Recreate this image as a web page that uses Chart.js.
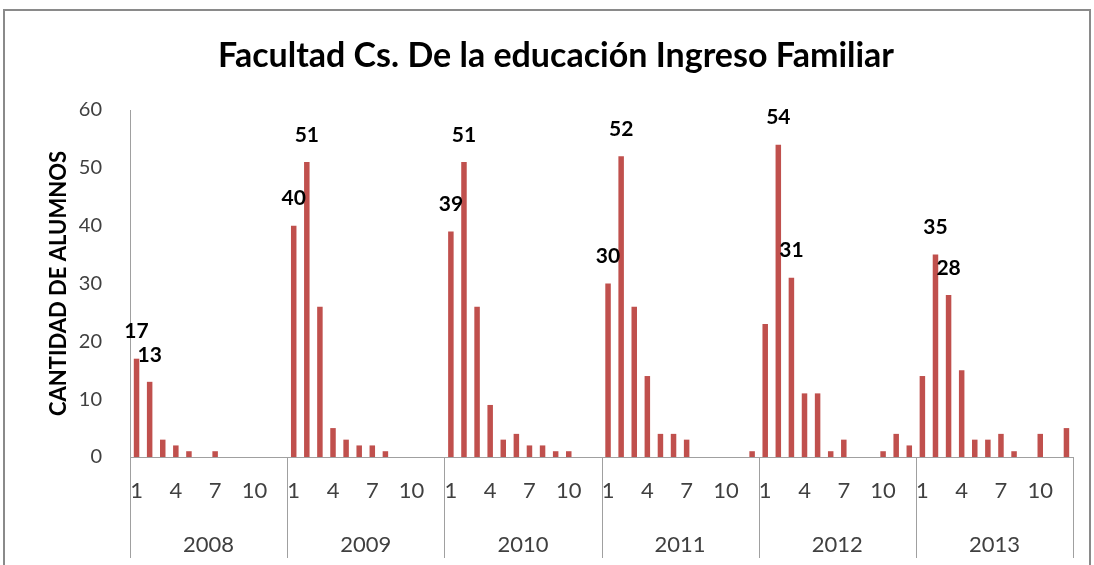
<!DOCTYPE html>
<html>
<head>
<meta charset="utf-8">
<script src="https://cdn.jsdelivr.net/npm/chart.js@4"></script>
<style>
  html, body { margin: 0; padding: 0; background: #fff; }
  #wrap { width: 1094px; height: 565px; position: relative; }
</style>
</head>
<body>
<div id="wrap"><canvas id="chart" width="1094" height="565"></canvas></div>
<script>
// values, one array per year (months 1..12)
const years = ["2008", "2009", "2010", "2011", "2012", "2013"];
const monthLabels = ["1","2","3","4","5","6","7","8","9","10","11","12"];
const shownMonthTicks = ["1", "4", "7", "10"];

const ingreso2008 = [17, 13, 3, 2, 1, 0, 1, 0, 0, 0, 0, 0];
const ingreso2009 = [40, 51, 26, 5, 3, 2, 2, 1, 0, 0, 0, 0];
const ingreso2010 = [39, 51, 26, 9, 3, 4, 2, 2, 1, 1, 0, 0];
const ingreso2011 = [30, 52, 26, 14, 4, 4, 3, 0, 0, 0, 0, 1];
const ingreso2012 = [23, 54, 31, 11, 11, 1, 3, 0, 0, 1, 4, 2];
const ingreso2013 = [14, 35, 28, 15, 3, 3, 4, 1, 0, 4, 0, 5];

// months that carry a value label, per year
const labelledMonths = [[1, 2], [1, 2], [1, 2], [1, 2], [2, 3], [2, 3]];

const yearSeries = [ingreso2008, ingreso2009, ingreso2010, ingreso2011, ingreso2012, ingreso2013];
const allValues = [].concat(...yearSeries);
const allLabels = [];
years.forEach(() => monthLabels.forEach(m => allLabels.push(m)));
const labelledIdx = [];
labelledMonths.forEach((ms, y) => ms.forEach(m => labelledIdx.push(y * 12 + m - 1)));

const FONT = "Lato, 'Open Sans', sans-serif";
const AXIS_GREY = "#a0a0a0";

const frameAndTitle = {
  id: "frameAndTitle",
  beforeDraw(chart) {
    const ctx = chart.ctx;
    ctx.save();
    ctx.strokeStyle = "#8a8a8a";
    ctx.lineWidth = 2;
    ctx.strokeRect(4, 10, 1086, 620);
    ctx.restore();
  },
  afterDraw(chart) {
    const ctx = chart.ctx;
    ctx.save();
    ctx.fillStyle = "#000";
    ctx.font = "bold 34px " + FONT;
    ctx.textAlign = "center";
    ctx.textBaseline = "middle";
    ctx.fillText("Facultad Cs. De la educación Ingreso Familiar", 556, 56);

    // year separators through both axis rows
    const x = chart.scales.x;
    const yr = chart.scales.xYear;
    const w = (x.right - x.left) / allValues.length;
    ctx.strokeStyle = AXIS_GREY;
    ctx.lineWidth = 1;
    for (let k = 0; k <= years.length; k++) {
      const px = Math.round(x.left + k * 12 * w) + 0.5;
      ctx.beginPath();
      ctx.moveTo(px, x.top);
      ctx.lineTo(px, yr.bottom - 7);
      ctx.stroke();
    }
    ctx.restore();
  }
};

const valueLabels = {
  id: "valueLabels",
  afterDatasetsDraw(chart) {
    const ctx = chart.ctx;
    const meta = chart.getDatasetMeta(0);
    ctx.save();
    ctx.fillStyle = "#000";
    ctx.font = "bold 21px " + FONT;
    ctx.textAlign = "center";
    ctx.textBaseline = "middle";
    labelledIdx.forEach(i => {
      const el = meta.data[i];
      ctx.fillText(String(allValues[i]), el.x, el.y - 27);
    });
    ctx.restore();
  }
};

new Chart(document.getElementById("chart").getContext("2d"), {
  type: "bar",
  data: {
    labels: allLabels,
    datasets: [{
      label: "Ingreso Familiar",
      data: allValues,
      backgroundColor: "#C0504D",
      borderWidth: 0,
      barPercentage: 0.42,
      categoryPercentage: 1.0
    }]
  },
  options: {
    responsive: false,
    animation: false,
    layout: { padding: { top: 110, right: 21, left: 0, bottom: 0 } },
    plugins: {
      legend: { display: false },
      title: { display: false },
      tooltip: { enabled: false }
    },
    scales: {
      y: {
        min: 0,
        max: 60,
        ticks: { stepSize: 10, color: "#404040", font: { family: FONT, size: 20 }, padding: 28 },
        grid: { display: false, drawTicks: false },
        border: { display: true, color: AXIS_GREY },
        title: {
          display: true,
          text: "CANTIDAD DE ALUMNOS",
          color: "#000",
          font: { family: FONT, size: 22, weight: "bold" },
          padding: { top: 46, bottom: 0 }
        },
        afterFit(s) { s.width = 130; }
      },
      x: {
        type: "category",
        weight: 0,
        ticks: {
          autoSkip: false,
          maxRotation: 0,
          color: "#404040",
          font: { family: FONT, size: 22 },
          padding: 21,
          callback(v) {
            const lab = this.getLabelForValue(v);
            return shownMonthTicks.includes(lab) ? lab : "";
          }
        },
        grid: { display: false, drawTicks: false },
        border: { display: true, color: AXIS_GREY },
        afterFit(s) { s.height = 58; }
      },
      xYear: {
        type: "category",
        position: "bottom",
        weight: 1,
        labels: years,
        offset: true,
        ticks: { color: "#404040", font: { family: FONT, size: 22 }, padding: 17 },
        grid: { display: false, drawTicks: false },
        border: { display: false },
        afterFit(s) { s.height = 50; }
      }
    }
  },
  plugins: [frameAndTitle, valueLabels]
});
</script>
</body>
</html>
